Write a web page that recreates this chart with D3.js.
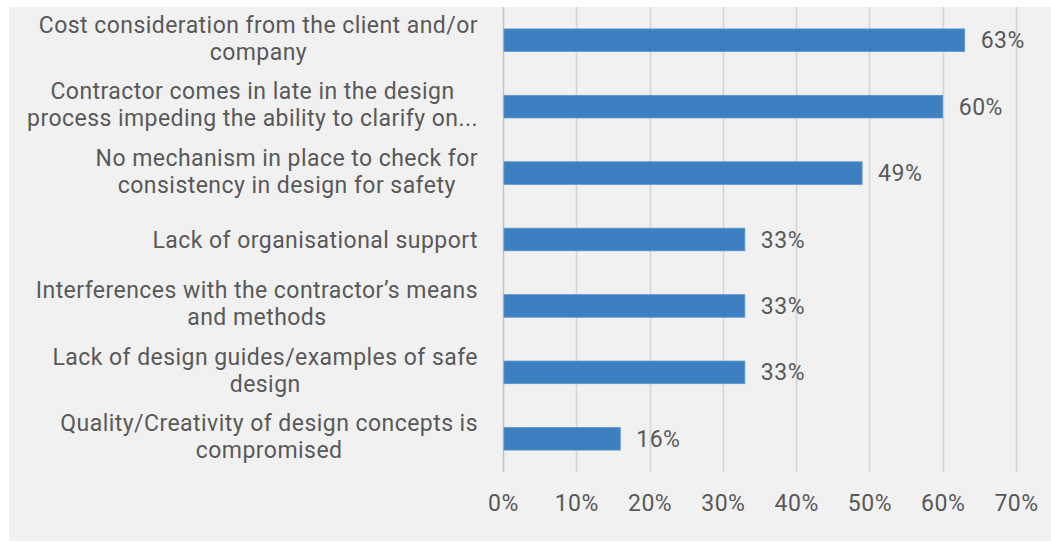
<!DOCTYPE html>
<html>
<head>
<meta charset="utf-8">
<script src="https://cdn.jsdelivr.net/npm/d3@7"></script>
<style>
  html, body { margin: 0; padding: 0; background: #ffffff; }
  svg { display: block; }
  text { font-family: Roboto, "Open Sans", sans-serif; fill: #595959; }
</style>
</head>
<body>
<svg id="chart" width="1051" height="542"></svg>
<script>
// Reasons given, each split into the lines it is shown on
const categories = [
  ["Cost consideration from the client and/or", "company"],
  ["Contractor comes in late in the design", "process impeding the ability to clarify on..."],
  ["No mechanism in place to check for", "consistency in design for safety"],
  ["Lack of organisational support"],
  ["Interferences with the contractor\u2019s means", "and methods"],
  ["Lack of design guides/examples of safe", "design"],
  ["Quality/Creativity of design concepts is", "compromised"]
];
// Share of respondents (%)
const values = [63, 60, 49, 33, 33, 33, 16];
// Axis ticks (%)
const xTicks = [0, 10, 20, 30, 40, 50, 60, 70];

const W = 1051, H = 542;
const svg = d3.select("#chart");

// chart area background
svg.append("rect")
  .attr("x", 9).attr("y", 7)
  .attr("width", W - 9).attr("height", H - 8)
  .attr("fill", "#f1f1f1");

const plot = { left: 503, right: 1016, top: 7, bottom: 472 };

const x = d3.scaleLinear().domain([0, 70]).range([plot.left, plot.right]);
const y = d3.scaleBand()
  .domain(d3.range(values.length))
  .range([plot.top, plot.bottom])
  .paddingInner(0.66)
  .paddingOuter(0.33);

// vertical gridlines
svg.append("g")
  .selectAll("line")
  .data(xTicks)
  .join("line")
  .attr("x1", d => Math.round(x(d)) + 0.5)
  .attr("x2", d => Math.round(x(d)) + 0.5)
  .attr("y1", plot.top)
  .attr("y2", plot.bottom)
  .attr("stroke", d => d === 0 ? "#c4c4c4" : "#d4d4d4")
  .attr("stroke-width", 1.5);

// x axis labels
const xAxis = d3.axisBottom(x)
  .tickValues(xTicks)
  .tickFormat(d => d + "%")
  .tickSize(0)
  .tickPadding(0);

const xg = svg.append("g")
  .attr("transform", `translate(0, ${plot.bottom + 31})`)
  .call(xAxis);
xg.select(".domain").remove();
xg.selectAll("text")
  .attr("dy", "0.35em")
  .attr("font-size", 23)
  .attr("letter-spacing", 0.5)
  .style("font-family", "Roboto, 'Open Sans', sans-serif")
  .attr("fill", "#595959");

// bars
svg.append("g")
  .selectAll("rect")
  .data(values)
  .join("rect")
  .attr("x", x(0) + 1)
  .attr("y", (d, i) => y(i))
  .attr("width", d => x(d) - x(0) - 1)
  .attr("height", y.bandwidth())
  .attr("fill", "#3c80c1")
  .attr("stroke", "#5a94cc")
  .attr("stroke-width", 0.8);

// value labels
svg.append("g")
  .selectAll("text")
  .data(values)
  .join("text")
  .attr("x", d => x(d) + 16)
  .attr("y", (d, i) => y(i) + y.bandwidth() / 2)
  .attr("dy", "0.35em")
  .attr("font-size", 23)
  .attr("letter-spacing", 0.5)
  .text(d => d + "%");

// category labels: lines centred on each other, block right-aligned
const labelRight = 478;
const lineH = 27;
const lg = svg.append("g");
categories.forEach((lines, i) => {
  const cy = y(i) + y.bandwidth() / 2;
  const g = lg.append("g");
  const texts = lines.map((ln, j) =>
    g.append("text")
      .attr("y", cy + (j - (lines.length - 1) / 2) * lineH - (lines.length > 1 ? 2 : 0))
      .attr("dy", "0.35em")
      .attr("font-size", 23)
      .attr("letter-spacing", 0.45)
      .attr("text-anchor", "middle")
      .text(ln)
  );
  const maxW = d3.max(texts, t => t.node().getComputedTextLength());
  texts.forEach(t => t.attr("x", labelRight - maxW / 2));
});
</script>
</body>
</html>
